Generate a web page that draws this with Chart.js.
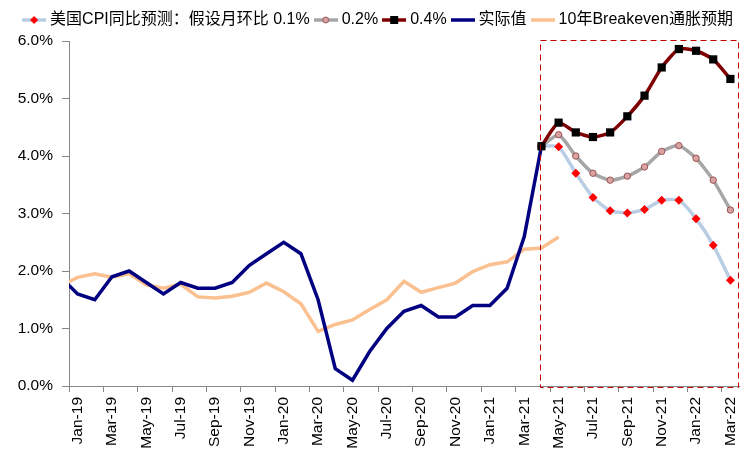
<!DOCTYPE html>
<html lang="zh">
<head>
<meta charset="UTF-8">
<title>美国CPI同比预测</title>
<script src="https://cdn.jsdelivr.net/npm/chart.js@4.4.4/dist/chart.umd.min.js"></script>
<style>
    html, body { margin: 0; padding: 0; background: #fff; }
</style>
</head>
<body>
<canvas id="cpi-chart" width="748" height="460"></canvas>
<script>
// x axis categories (monthly)
const months = [
    'Jan-19', 'Feb-19', 'Mar-19', 'Apr-19', 'May-19', 'Jun-19', 'Jul-19', 'Aug-19', 'Sep-19', 'Oct-19', 'Nov-19', 'Dec-19',
    'Jan-20', 'Feb-20', 'Mar-20', 'Apr-20', 'May-20', 'Jun-20', 'Jul-20', 'Aug-20', 'Sep-20', 'Oct-20', 'Nov-20', 'Dec-20',
    'Jan-21', 'Feb-21', 'Mar-21', 'Apr-21', 'May-21', 'Jun-21', 'Jul-21', 'Aug-21', 'Sep-21', 'Oct-21', 'Nov-21', 'Dec-21',
    'Jan-22', 'Feb-22', 'Mar-22'
];

// history starts one month before the axis (Dec-18), cut off at the y axis
const historyOffset = -1;
const actualCpi = [
    1.9, 1.6, 1.5, 1.9, 2.0, 1.8, 1.6, 1.8, 1.7, 1.7, 1.8, 2.1, 2.3,
    2.5, 2.3, 1.5, 0.3, 0.1, 0.6, 1.0, 1.3, 1.4, 1.2, 1.2, 1.4,
    1.4, 1.7, 2.6, 4.17
];
const breakeven = [
    1.74, 1.89, 1.95, 1.89, 1.95, 1.76, 1.70, 1.77, 1.55, 1.53, 1.56, 1.63, 1.79,
    1.64, 1.43, 0.95, 1.07, 1.15, 1.33, 1.50, 1.82, 1.63, 1.71, 1.79, 1.99,
    2.11, 2.16, 2.38, 2.40, 2.59
];

// forecasts, Apr-21 .. Mar-22
const forecastFrom = 'Apr-21';
const forecast01 = [4.17, 4.16, 3.70, 3.28, 3.05, 3.01, 3.07, 3.23, 3.23, 2.91, 2.45, 1.84];
const forecast02 = [4.17, 4.37, 4.00, 3.70, 3.58, 3.65, 3.81, 4.08, 4.18, 3.96, 3.58, 3.06];
const forecast04 = [4.17, 4.58, 4.41, 4.33, 4.41, 4.69, 5.05, 5.54, 5.86, 5.83, 5.68, 5.34];

const yTicks = [0, 1, 2, 3, 4, 5, 6];

const seriesNames = ['美国CPI同比预测：假设月环比 0.1%', '0.2%', '0.4%', '实际值', '10年Breakeven通胀预期'];

const fontFamily = 'Arial, "Liberation Sans", "Noto Sans CJK SC", sans-serif';
Chart.defaults.font.family = fontFamily;
Chart.defaults.color = '#000';

const fStart = months.indexOf(forecastFrom);
const toPoints = (arr, start) => arr.map((v, i) => ({ x: start + i, y: v }));

// legend sample: short line with marker in the middle
function legendSample(lineColor, marker) {
    const c = document.createElement('canvas');
    c.width = 24; c.height = 14;
    const g = c.getContext('2d');
    g.strokeStyle = lineColor;
    g.lineWidth = 3.5;
    g.beginPath(); g.moveTo(0, 7); g.lineTo(24, 7); g.stroke();
    if (marker === 'diamond') {
        g.fillStyle = '#ff0000';
        g.beginPath(); g.moveTo(12, 3); g.lineTo(16, 7); g.lineTo(12, 11); g.lineTo(8, 7); g.closePath(); g.fill();
    } else if (marker === 'circle') {
        g.fillStyle = '#d9a3a3'; g.strokeStyle = '#9a5252'; g.lineWidth = 1;
        g.beginPath(); g.arc(12, 7, 3, 0, Math.PI * 2); g.fill(); g.stroke();
    } else if (marker === 'square') {
        g.fillStyle = '#000';
        g.fillRect(8, 3, 8, 8);
    }
    return c;
}

const samples = [
    legendSample('#b9cde5', 'diamond'),
    legendSample('#a6a6a6', 'circle'),
    legendSample('#7f0000', 'square'),
    legendSample('#000080'),
    legendSample('#fac090')
];

// dashed red box around the forecast period
const forecastBox = {
    id: 'forecastBox',
    afterDraw(chart) {
        const { ctx, chartArea, scales } = chart;
        const left = Math.round(scales.x.getPixelForValue(fStart - 0.1)) + 0.5;
        const right = Math.round(chartArea.right) - 0.5;
        const top = Math.round(chartArea.top) - 0.5;
        const bottom = Math.round(chartArea.bottom) + 1.5;
        ctx.save();
        ctx.strokeStyle = '#c00000';
        ctx.lineWidth = 1;
        ctx.setLineDash([6, 4]);
        ctx.strokeRect(left, top, right - left, bottom - top);
        ctx.restore();
    }
};

// a bit more room under the legend, and nudge it right
const legendTweak = {
    id: 'legendTweak',
    afterInit(chart) {
        const fit = chart.legend.fit;
        chart.legend.fit = function () {
            fit.bind(chart.legend)();
            this.height += 3;
        };
    },
    afterLayout(chart) {
        chart.legend.left += 10;
        chart.legend.right += 10;
    }
};

new Chart(document.getElementById('cpi-chart'), {
    type: 'line',
    data: {
        datasets: [
            {
                label: seriesNames[0],
                data: toPoints(forecast01, fStart),
                borderColor: '#b9cde5',
                borderWidth: 3.5,
                tension: 0.2,
                pointStyle: 'rectRot',
                pointRadius: 4.5,
                pointBackgroundColor: '#ff0000',
                pointBorderColor: '#ff0000',
                pointBorderWidth: 0,
                order: 3
            },
            {
                label: seriesNames[1],
                data: toPoints(forecast02, fStart),
                borderColor: '#a6a6a6',
                borderWidth: 3.5,
                tension: 0.2,
                pointStyle: 'circle',
                pointRadius: 3.2,
                pointBackgroundColor: '#d9a3a3',
                pointBorderColor: '#9a5252',
                pointBorderWidth: 1,
                order: 2
            },
            {
                label: seriesNames[2],
                data: toPoints(forecast04, fStart),
                borderColor: '#7f0000',
                borderWidth: 3.5,
                tension: 0.2,
                pointStyle: 'rect',
                pointRadius: 5.8,
                pointBackgroundColor: '#000',
                pointBorderColor: '#000',
                pointBorderWidth: 0,
                order: 1
            },
            {
                label: seriesNames[3],
                data: toPoints(actualCpi, historyOffset),
                borderColor: '#000080',
                borderWidth: 3.5,
                pointRadius: 0,
                clip: 0,
                order: 4
            },
            {
                label: seriesNames[4],
                data: toPoints(breakeven, historyOffset),
                borderColor: '#fac090',
                borderWidth: 3.5,
                pointRadius: 0,
                clip: 0,
                order: 5
            }
        ]
    },
    options: {
        responsive: false,
        animation: false,
        devicePixelRatio: 1,
        layout: { padding: { top: 4, right: 9, bottom: 0, left: 0 } },
        plugins: {
            tooltip: { enabled: false },
            legend: {
                position: 'top',
                labels: {
                    font: { size: 16 },
                    color: '#000',
                    padding: 8,
                    usePointStyle: true,
                    pointStyleWidth: 16,
                    generateLabels: (chart) => chart.data.datasets.map((ds, i) => ({
                        text: ds.label,
                        pointStyle: samples[i],
                        fillStyle: 'transparent',
                        strokeStyle: 'transparent',
                        lineWidth: 0,
                        fontColor: '#000',
                        hidden: false,
                        datasetIndex: i
                    }))
                }
            }
        },
        scales: {
            x: {
                type: 'linear',
                min: -0.5,
                max: months.length - 0.5,
                afterBuildTicks: (scale) => {
                    const t = [];
                    for (let i = 0; i < months.length; i += 2) t.push({ value: i - 0.5 });
                    scale.ticks = t;
                },
                afterFit: (scale) => { scale.height = 74; },
                ticks: {
                    autoSkip: false,
                    maxRotation: 90,
                    minRotation: 90,
                    padding: 5,
                    labelOffset: 8.6,
                    font: { size: 15.5 },
                    callback: (v) => months[Math.round(v + 0.5)] || ''
                },
                grid: { drawOnChartArea: false, drawTicks: true, tickLength: 6, color: '#878787' },
                border: { color: '#878787', width: 1 }
            },
            y: {
                min: 0,
                max: 6,
                afterBuildTicks: (scale) => { scale.ticks = yTicks.map(v => ({ value: v })); },
                afterFit: (scale) => { scale.width = 69; },
                ticks: {
                    padding: 9,
                    font: { size: 15.5 },
                    callback: (v) => v.toFixed(1) + '%'
                },
                grid: { drawOnChartArea: false, drawTicks: true, tickLength: 7, color: '#878787' },
                border: { color: '#878787', width: 1 }
            }
        }
    },
    plugins: [forecastBox, legendTweak]
});
</script>
</body>
</html>
